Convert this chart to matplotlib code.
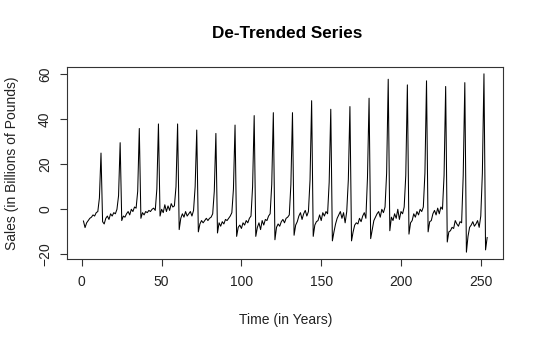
import matplotlib
matplotlib.use("Agg")
import matplotlib.pyplot as plt
import numpy as np

plt.rcParams['font.family'] = ['Liberation Sans', 'DejaVu Sans']

title = "De-Trended Series"
xlabel = "Time (in Years)"
ylabel = "Sales (in Billions of Pounds)"
xticks = [0, 50, 100, 150, 200, 250]
yticks = [-20, 0, 20, 40, 60]

year01 = [-5.2, -8.1, -6, -5, -4, -3.5, -2.5, -3, -1.5, -1, 5, 24.9]
year02 = [-5.5, -6.5, -4, -3, -4.5, -2, -3, -1.5, -2, 0, 6, 29.5]
year03 = [-5, -3, -3.5, -2, -1, -2.5, 0, -1, 1, 0.5, 8, 35.8]
year04 = [-4, -1.5, -2.5, -1, -1.5, -0.5, -1, 0, 0.5, -0.5, 9, 37.8]
year05 = [-3, 0, -1.5, 2, -1, 1.5, -0.5, 2.5, 1, 1.5, 10, 37.8]
year06 = [-9, -4, -2, -3.5, -1, -3, -2, -1, -3, -0.5, 10, 35.1]
year07 = [-10, -6.5, -5, -6, -5, -4, -5, -4, -3.5, -2, 8, 33.6]
year08 = [-10.5, -6, -7.5, -5.5, -6.5, -4.5, -5, -4, -3, -1.5, 9, 37.3]
year09 = [-12, -8, -7, -8.5, -6, -7, -5, -6, -4, -3, 10, 41.5]
year10 = [-12, -8, -6, -9, -5, -7, -4.5, -5, -3, -2, 11, 42.8]
year11 = [-13.5, -8, -6.5, -7.5, -5.5, -4.5, -6, -4, -3.5, -2.5, 11, 42.8]
year12 = [-11.5, -7, -5.5, -3, -1.5, -4.5, -2, -0.5, -3, -1, 13, 48.1]
year13 = [-12, -7, -5.5, -5, -2.5, -5, -1.5, -3, -1, -2, 12, 44.3]
year14 = [-14, -10, -6.5, -4, -2.5, -1, -4, -1.5, -6, -1, 13, 45.5]
year15 = [-14, -10, -7, -6, -6.5, -4, -5.5, -3, -1.5, -4, 14, 49.2]
year16 = [-13, -9, -5, -3.5, -2, -1, -3.5, 0, -1.5, 1, 16, 57.6]
year17 = [-9.5, -3.5, -5, -2, -4, 0, -4.5, -1, -2, 1, 15, 55.1]
year18 = [-11, -6, -5, -2, -3.5, -1, -2.5, 0, -1, 1, 16, 56.9]
year19 = [-10, -5.5, -5, -2, -0.5, -2.5, 0.5, -2, 1, 0, 15, 54.4]
year20 = [-14.5, -10, -9.5, -8, -8.5, -5, -6.5, -7.5, -5.5, -6, 15, 56.1]
year21 = [-19, -12, -8, -7, -5.5, -7.5, -6.5, -5, -8, -3, 16, 60]
tail = [-18, -12.5]

values = (year01 + year02 + year03 + year04 + year05 + year06 + year07 +
          year08 + year09 + year10 + year11 + year12 + year13 + year14 +
          year15 + year16 + year17 + year18 + year19 + year20 + year21 + tail)
time = np.arange(1, len(values) + 1)

fig = plt.figure(figsize=(5.4, 3.44), dpi=100)
ax = fig.add_axes([67.3/540, 1-259.3/344, (503.3-67.3)/540, (259.3-66.7)/344])
ax.plot(time, values, color='black', linewidth=0.75)
ax.margins(x=0.04, y=0.04)
ax.set_xticks(xticks)
ax.set_yticks(yticks)
ax.tick_params(axis='both', length=5, width=0.8, labelsize=10, pad=6, color='#333333',
               labelcolor='#222222')
for lab in ax.get_yticklabels():
    lab.set_rotation(90)
    lab.set_va('center')
for s in ax.spines.values():
    s.set_linewidth(0.8)
    s.set_color('#333333')

fig.text(287/540, 1-33/344, title, ha='center', va='center', fontsize=12.3, fontweight='bold')
fig.text(285.3/540, 1-320/344, xlabel, ha='center', va='center', fontsize=10, color='#222222')
fig.text(12/540, 1-163/344, ylabel, ha='center', va='center', rotation=90, fontsize=10,
         color='#222222')

fig.savefig("out.png", dpi=100)
